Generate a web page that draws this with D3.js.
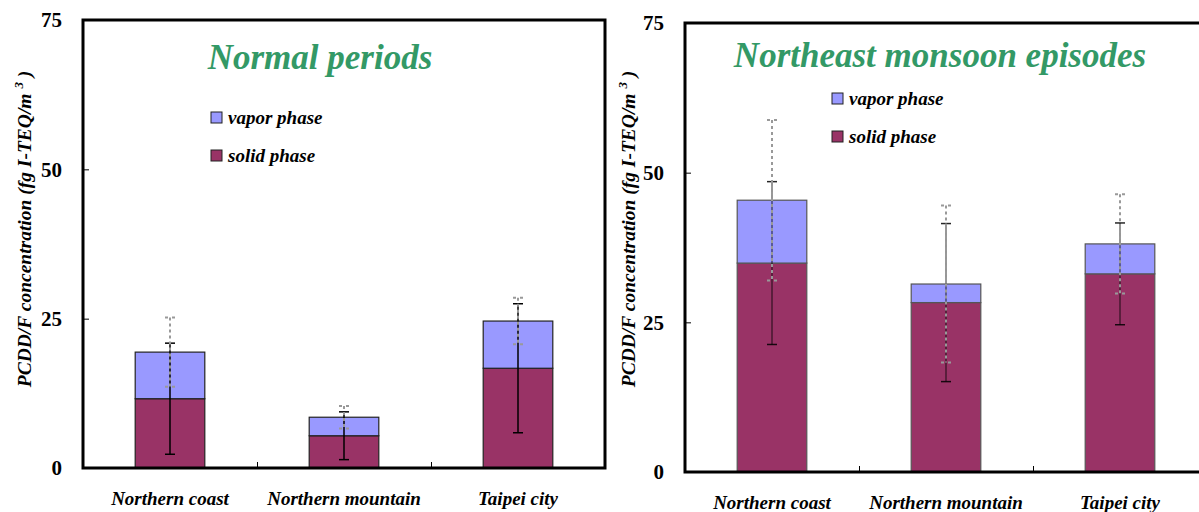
<!DOCTYPE html>
<html><head><meta charset="utf-8">
<script src="https://cdn.jsdelivr.net/npm/d3@7"></script>
<style>
html,body{margin:0;padding:0;background:#fff;}
svg{display:block;}
</style></head>
<body>
<svg id="chart" width="1199" height="512" font-family="Liberation Serif"></svg>
<script>
const categories = ["Northern coast","Northern mountain","Taipei city"];
const yTicks = [0,25,50,75];
const seriesNames = ["vapor phase","solid phase"];
// Normal periods
const normalSolid = [11.6, 5.4, 16.7];
const normalVapor = [7.8, 3.1, 7.9];
const normalSolidErr = [9.3, 4.0, 10.8];
const normalTotalErr = [5.8, 1.9, 3.9];
// Northeast monsoon episodes
const monsoonSolid = [34.9, 28.3, 33.1];
const monsoonVapor = [10.5, 3.1, 5.0];
const monsoonSolidErr = [13.6, 13.2, 8.5];
const monsoonTotalErr = [13.4, 13.1, 8.3];

const FONT = "Liberation Serif";
const svg = d3.select("#chart");
const colSolid = "#993366", colVapor = "#9999FF", colTitle = "#339966";

function panel(opt){
  const g = svg.append("g");
  const x = d3.scaleBand().domain(categories).range([opt.left, opt.left + 3*174]).padding(0);
  const y = d3.scaleLinear().domain([0,75]).range([opt.bottom, opt.top]);
  const bw = x.bandwidth()*0.4;
  const cx = c => x(c) + x.bandwidth()/2;

  // bars
  categories.forEach((c,i)=>{
    const s = opt.solid[i], v = opt.vapor[i];
    g.append("rect").attr("x", cx(c)-bw/2).attr("width", bw)
      .attr("y", y(s)).attr("height", y(0)-y(s))
      .attr("fill", colSolid).attr("stroke", opt.barStroke).attr("stroke-width",1.2);
    g.append("rect").attr("x", cx(c)-bw/2).attr("width", bw)
      .attr("y", y(s+v)).attr("height", y(s)-y(s+v))
      .attr("fill", colVapor).attr("stroke", opt.barStroke).attr("stroke-width",1.2);
  });
  // solid-phase error bars
  categories.forEach((c,i)=>{
    const s = opt.solid[i], e = opt.solidErr[i];
    const xc = cx(c);
    g.append("line").attr("x1",xc).attr("x2",xc).attr("y1",y(s+e)).attr("y2",y(s-e))
      .attr("stroke","#000").attr("stroke-width",1.5).attr("stroke-opacity",opt.errOpacity);
    [s+e, s-e].forEach(v=>{
      g.append("line").attr("x1",xc-5).attr("x2",xc+5).attr("y1",y(v)).attr("y2",y(v))
        .attr("stroke","#000").attr("stroke-width",1.5).attr("stroke-opacity",Math.min(1,opt.errOpacity+0.3));
    });
  });
  // total error bars (dotted gray)
  categories.forEach((c,i)=>{
    const t = opt.solid[i]+opt.vapor[i], e = opt.totalErr[i];
    const xc = cx(c);
    g.append("line").attr("x1",xc).attr("x2",xc).attr("y1",y(t+e)).attr("y2",y(t-e))
      .attr("stroke","#999").attr("stroke-width",2).attr("stroke-dasharray","3,3");
    [t+e, t-e].forEach(v=>{
      g.append("line").attr("x1",xc-5).attr("x2",xc+5).attr("y1",y(v)).attr("y2",y(v))
        .attr("stroke","#999").attr("stroke-width",2).attr("stroke-dasharray","3,4");
    });
  });

  // frame
  const right = opt.left + 3*174;
  g.append("path")
    .attr("d", `M${opt.left},${opt.top}H${right}V${opt.bottom}H${opt.left}Z`)
    .attr("fill","none").attr("stroke","#000").attr("stroke-width",3);

  // y axis ticks (inward) + labels
  const yAxis = d3.axisLeft(y).tickValues(yTicks).tickSize(-6).tickPadding(21);
  const ya = g.append("g").attr("transform",`translate(${opt.left},0)`).call(yAxis);
  ya.attr("font-family", FONT);
  ya.select(".domain").remove();
  ya.selectAll(".tick line").attr("stroke","#000").attr("stroke-width",1);
  ya.selectAll(".tick text").attr("font-family",FONT).attr("font-size",21)
    .attr("font-weight","bold").attr("fill","#000");

  // x axis ticks at band boundaries
  const xb = d3.scaleLinear().domain([0,3]).range([opt.left, right]);
  const xAxis = d3.axisBottom(xb).tickValues([1,2]).tickSize(-6).tickFormat("");
  const xa = g.append("g").attr("transform",`translate(0,${opt.bottom})`).call(xAxis);
  xa.select(".domain").remove();
  xa.selectAll(".tick line").attr("stroke","#000").attr("stroke-width",1);

  // category labels
  categories.forEach(c=>{
    g.append("text").attr("x",cx(c)).attr("y",opt.bottom+37).attr("text-anchor","middle")
      .attr("font-family",FONT).attr("font-size",19).attr("font-weight","bold").attr("font-style","italic").text(c);
  });

  // y-title
  const yt = g.append("text")
    .attr("transform",`translate(${opt.ytX},${opt.ytY}) rotate(-90)`)
    .attr("text-anchor","middle").attr("font-family",FONT).attr("font-size",19.5)
    .attr("font-weight","bold").attr("font-style","italic");
  yt.append("tspan").text("PCDD/F concentration (fg I-TEQ/m ");
  yt.append("tspan").attr("font-size",13).attr("dy",-8).text("3");
  yt.append("tspan").attr("dy",8).text(" )");

  // title
  g.append("text").attr("x",opt.titleX).attr("y",opt.titleY).attr("text-anchor","middle")
    .attr("font-family",FONT).attr("font-size",35).attr("font-weight","bold").attr("font-style","italic")
    .attr("fill",colTitle).text(opt.title);

  // legend
  const lc = [colVapor, colSolid];
  seriesNames.forEach((n,i)=>{
    const ly = opt.legY + i*opt.legGap;
    g.append("rect").attr("x",opt.legX).attr("y",ly).attr("width",11).attr("height",11)
      .attr("fill",lc[i]).attr("stroke","#222").attr("stroke-width",1);
    g.append("text").attr("x",opt.legX+17).attr("y",ly+12).attr("font-family",FONT).attr("font-size",19)
      .attr("font-weight","bold").attr("font-style","italic").text(n);
  });
}

panel({left:83, top:20, bottom:468, solid:normalSolid, vapor:normalVapor,
  solidErr:normalSolidErr, totalErr:normalTotalErr, barStroke:"#222", errOpacity:1,
  ytX:31, ytY:229, title:"Normal periods", titleX:320, titleY:69,
  legX:211, legY:112, legGap:38});
panel({left:685, top:23, bottom:472, solid:monsoonSolid, vapor:monsoonVapor,
  solidErr:monsoonSolidErr, totalErr:monsoonTotalErr, barStroke:"#555", errOpacity:0.55,
  ytX:635, ytY:229, title:"Northeast monsoon episodes", titleX:940, titleY:67,
  legX:832, legY:93, legGap:38});
</script>
</body></html>
